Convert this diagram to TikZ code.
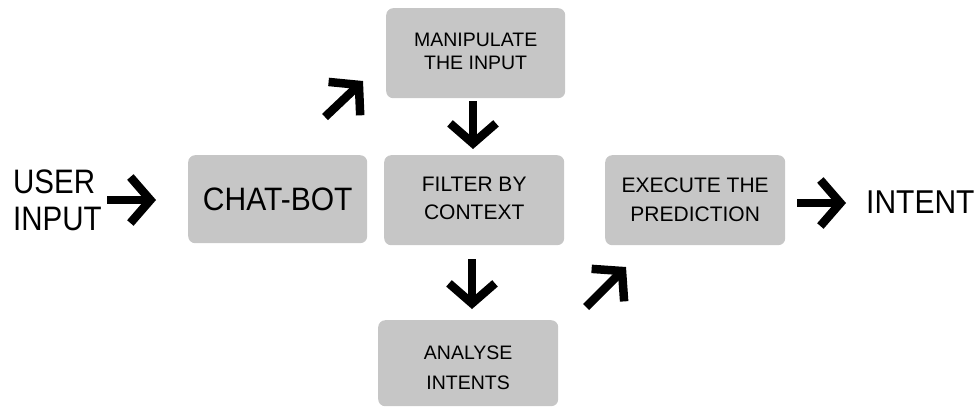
\documentclass[tikz,border=0pt]{standalone}
\usepackage{fontspec}
\setmainfont{Liberation Sans}
\usetikzlibrary{arrows.meta}
\definecolor{boxgray}{HTML}{C6C6C6}
\tikzset{
  box/.style={fill=boxgray, rounded corners=7pt, inner sep=0pt, anchor=north west},
  boxtext/.style={align=center, inner sep=0pt},
  smalltext/.style={font=\fontsize{19.5}{24}\selectfont},
  midtext/.style={font=\fontsize{21}{26}\selectfont},
  bigtext/.style={font=\fontsize{30}{32}\selectfont},
  bigarrow/.style={line width=8.5pt, -{Straight Barb[length=20pt, width=46pt, line width=8.5pt]}},
}
\begin{document}
\begin{tikzpicture}[x=1pt, y=-1pt]
\useasboundingbox (0,0) rectangle (976,408);

% boxes
\node[box, minimum width=179pt, minimum height=88pt] (chat) at (188,155) {};
\node[box, minimum width=179pt, minimum height=90pt] (manip) at (386,8) {};
\node[box, minimum width=180pt, minimum height=90pt] (filter) at (384,155) {};
\node[box, minimum width=180pt, minimum height=90pt] (exec) at (605,155) {};
\node[box, minimum width=180pt, minimum height=86pt] (analyse) at (378,320) {};

% box texts
\node[boxtext, bigtext] (chatt) at ([yshift=0pt]chat.center) {\scalebox{1}[1.08]{CHAT-BOT}};
\node[boxtext, smalltext] (manipt) at ([yshift=2pt]manip.center) {MANIPULATE\\[-1pt]THE INPUT};
\node[boxtext, midtext] (filtert) at ([yshift=2pt]filter.center) {FILTER BY\\[2pt]CONTEXT};
\node[boxtext, midtext] (exect) at ([yshift=0pt]exec.center) {EXECUTE THE\\[3pt]PREDICTION};
\node[boxtext, smalltext] (analyset) at ([yshift=-5pt]analyse.center) {ANALYSE\\[6pt]INTENTS};

% free texts
\node[font=\fontsize{29.5}{37}\selectfont, align=left, inner sep=0pt, anchor=west] (user) at (13,200) {\scalebox{1}[1.15]{USER}\\\scalebox{1}[1.15]{INPUT}};
\node[bigtext, inner sep=0pt, anchor=west] (intent) at (866,202) {\scalebox{1}[1.1]{INTENT}};

% arrow end points
\coordinate (a1s) at (107,200); \coordinate (a1e) at (156,200);
\coordinate (a2s) at (325,117); \coordinate (a2e) at (363,81);
\coordinate (a3s) at (473,101); \coordinate (a3e) at (473,149);
\coordinate (a4s) at (472,259); \coordinate (a4e) at (472,309);
\coordinate (a5s) at (586,307); \coordinate (a5e) at (626,267);
\coordinate (a6s) at (797,203); \coordinate (a6e) at (846,203);

\draw[bigarrow] (a1s) -- (a1e);
\draw[bigarrow] (a2s) -- (a2e);
\draw[bigarrow] (a3s) -- (a3e);
\draw[bigarrow] (a4s) -- (a4e);
\draw[bigarrow] (a5s) -- (a5e);
\draw[bigarrow] (a6s) -- (a6e);
\end{tikzpicture}
\end{document}
